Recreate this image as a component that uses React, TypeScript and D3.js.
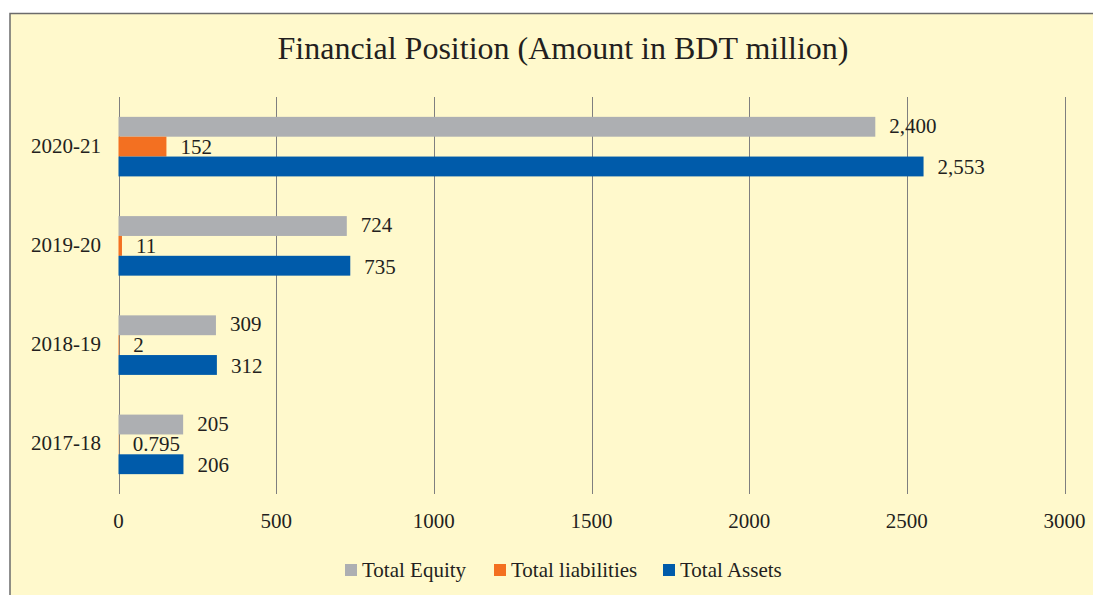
import React from "react";
import * as d3 from "d3";

const categories = ["2020-21", "2019-20", "2018-19", "2017-18"];
const seriesNames = ["Total Equity", "Total liabilities", "Total Assets"];
const totalEquity = [2400, 724, 309, 205];
const totalLiabilities = [152, 11, 2, 0.795];
const totalAssets = [2553, 735, 312, 206];
const xTicks = [0, 500, 1000, 1500, 2000, 2500, 3000];
const colors = ["#ADAFB2", "#F37021", "#005BAA"];

const W = 1093;
const H = 595;
const FONT = "'Liberation Serif', 'Times New Roman', serif";

export default function App() {
  const series = [totalEquity, totalLiabilities, totalAssets];
  const x = d3.scaleLinear().domain([0, 3000]).range([118.5, 1064.5]);
  const y = d3.scaleBand<string>().domain(categories).range([97, 494]).paddingInner(0.4).paddingOuter(0.2);
  const inner = d3.scaleBand<number>().domain([0, 1, 2]).range([0, y.bandwidth()]);
  const fmt = (v: number) => (Number.isInteger(v) ? d3.format(",")(v) : String(v));
  const textColor = "#231F20";
  const labelDy = [6, 7, 8];

  const legendX = [345, 494, 663];

  return (
    <svg width={W} height={H} style={{ position: "absolute", left: 0, top: 0, display: "block" }}>
      <rect x={10} y={13.5} width={W + 20} height={H + 20} fill="#FFF9CC" stroke="#6B6B6B" strokeWidth={1.5} />
      <text x={563} y={59} textAnchor="middle" fontFamily={FONT} fontSize={32} fill={textColor}>
        Financial Position (Amount in BDT million)
      </text>
      {xTicks.map((t) => (
        <line key={t} x1={Math.round(x(t)) + 0.5} x2={Math.round(x(t)) + 0.5} y1={97} y2={494} stroke="#7F7F7F" strokeWidth={1} />
      ))}
      {xTicks.map((t) => (
        <text key={"l" + t} x={x(t)} y={528} textAnchor="middle" fontFamily={FONT} fontSize={21} fill={textColor}>
          {t}
        </text>
      ))}
      {categories.map((c) => (
        <text key={c} x={101} y={(y(c) as number) + y.bandwidth() / 2 + 6} textAnchor="end" fontFamily={FONT} fontSize={21} fill={textColor}>
          {c}
        </text>
      ))}
      {series.map((vals, si) =>
        vals.map((v, ci) => {
          const yy = (y(categories[ci]) as number) + (inner(si) as number);
          const h = inner.bandwidth();
          return (
            <g key={si + "-" + ci}>
              <rect x={x(0)} y={yy} width={x(v) - x(0)} height={h} fill={colors[si]} />
              <text x={x(v) + 14} y={yy + h / 2 + labelDy[si]} fontFamily={FONT} fontSize={21} fill={textColor}>
                {fmt(v)}
              </text>
            </g>
          );
        })
      )}
      {seriesNames.map((n, i) => (
        <g key={n}>
          <rect x={legendX[i]} y={564} width={12} height={12} fill={colors[i]} />
          <text x={legendX[i] + 17} y={577} fontFamily={FONT} fontSize={21} fill={textColor}>
            {n}
          </text>
        </g>
      ))}
    </svg>
  );
}
